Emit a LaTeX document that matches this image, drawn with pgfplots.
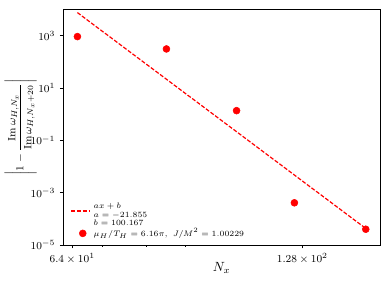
\documentclass[border=0pt]{standalone}
\usepackage{pgfplots}
\pgfplotsset{compat=1.18}
\begin{document}
\begin{tikzpicture}
\begin{axis}[
  scale only axis, width=237.5pt, height=176.8pt,
  xmode=log, ymode=log,
  xmin=62.3, xmax=161.8, ymin=1e-5, ymax=1.02e4,
  xtick={64,128}, xticklabels={$6.4\times10^{1}$,$1.28\times10^{2}$},
  minor xtick={70,80,90},
  ytick={1e-5,1e-3,1e-1,1e1,1e3},
  yminorticks=false,
  xtick pos=bottom, ytick pos=left,
  tick align=outside,
  major tick length=2.6pt, minor tick length=1.5pt,
  axis line style={line width=0.6pt},
  every tick/.style={black, line width=0.5pt},
  tick label style={font=\footnotesize},
  xlabel={$N_x$}, ylabel={$\displaystyle\left|1-\frac{\mathrm{Im}\,\omega_{H,N_x}}{\mathrm{Im}\,\omega_{H,N_x+20}}\right|$},
  xlabel style={at={(axis description cs:0.5,0)}, anchor=center, yshift=-17.25pt, font=\normalsize},
  ylabel style={at={(axis description cs:-0.135,0.5)}, anchor=center, font=\footnotesize},
  legend style={at={(0.01,0.005)}, anchor=south west, draw=none, fill=none,
    font=\fontsize{6.3}{7}\selectfont, row sep=2.75pt},
  legend cell align=left,
]
\addplot[red, line width=0.9pt, dash pattern=on 3pt off 1.3pt,
  legend image code/.code={\draw[red, line width=0.9pt, dash pattern=on 3pt off 1.3pt] (0cm,0cm) -- (0.5cm,0cm);}]
  coordinates {(65,7601) (155,4.29e-5)};
\addlegendentry{\begin{tabular}{@{}l@{}}$ax+b$\\[-0.6pt]$a=-21.855$\\[-0.6pt]$b=100.167$\end{tabular}}
\addplot[only marks, mark=*, mark size=2.6pt, red, mark options={fill=red, draw=red}] coordinates {
(65,920) (85,310) (105,1.36) (125,4.1e-4) (155,4.0e-5)};
\addlegendentry{$\mu_H/T_H=6.16\pi,\ J/M^2=1.00229$}
\end{axis}
\pgfresetboundingbox
\path[use as bounding box] (-47.5pt,-29.25pt) rectangle (245pt,183.75pt);
\end{tikzpicture}
\end{document}
